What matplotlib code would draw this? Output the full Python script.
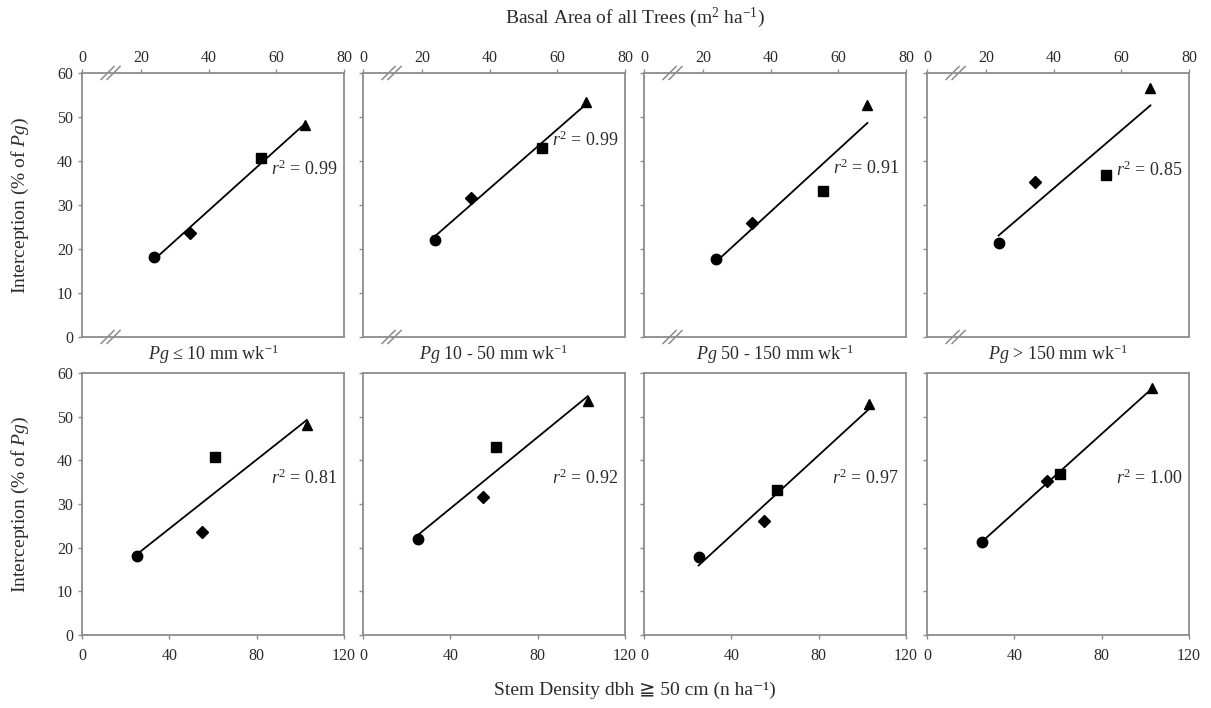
import numpy as np
import matplotlib
matplotlib.use("Agg")
import matplotlib.pyplot as plt

plt.rcParams["font.family"] = ["Liberation Serif", "DejaVu Serif", "DejaVu Sans"]
plt.rcParams["mathtext.fontset"] = "custom"
plt.rcParams["mathtext.rm"] = "Liberation Serif"
plt.rcParams["mathtext.it"] = "Liberation Serif:italic"
plt.rcParams["mathtext.fallback"] = "stix"

# Site predictors (one value per site, same order as the markers)
basal_area = [23.7, 34.6, 55.6, 68.6]        # m2 ha-1
stem_density = [25.0, 55.0, 61.0, 103.0]     # n ha-1 (dbh >= 50 cm)
site_markers = ["o", "D", "s", "^"]

# Interception (% of gross precipitation) for each weekly rainfall class
int_pg_le10 = [18.2, 23.6, 40.7, 48.1]
int_pg_10_50 = [22.0, 31.7, 43.0, 53.5]
int_pg_50_150 = [17.8, 26.0, 33.2, 52.8]
int_pg_gt150 = [21.3, 35.3, 36.9, 56.5]
interception = [int_pg_le10, int_pg_10_50, int_pg_50_150, int_pg_gt150]

class_titles = [
    r"$\mathit{Pg}$ ≤ 10 mm wk$^{-1}$",
    r"$\mathit{Pg}$ 10 - 50 mm wk$^{-1}$",
    r"$\mathit{Pg}$ 50 - 150 mm wk$^{-1}$",
    r"$\mathit{Pg}$ > 150 mm wk$^{-1}$",
]
r2_basal = ["0.99", "0.99", "0.91", "0.85"]
r2_stem = ["0.81", "0.92", "0.97", "1.00"]

y_ticks = [0, 10, 20, 30, 40, 50, 60]
ba_ticks = [20, 40, 60, 80]
sd_ticks = [0, 40, 80, 120]

SPINE = "#8c8c8c"
TXT = "#2b2b2b"

fig = plt.figure(figsize=(12.11, 7.08), dpi=100)
W, H = 1211.0, 708.0
col_left = [82, 363, 644, 927]
panel_w = 262
top_row = (73, 337)
bot_row = (373, 635)

ba_lo = 2.56  # broken axis: the left edge stands for 0


def make_ax(x0, row):
    y_top, y_bot = row
    return fig.add_axes([x0 / W, 1 - y_bot / H, panel_w / W, (y_bot - y_top) / H])


def style(ax, first_col):
    for s in ax.spines.values():
        s.set_color(SPINE)
        s.set_linewidth(1.3)
    ax.set_ylim(0, 60)
    ax.set_yticks(y_ticks)
    ax.tick_params(axis="both", colors=SPINE, labelcolor=TXT, labelsize=11.5,
                   direction="out", length=3, width=1.0)
    if not first_col:
        ax.tick_params(axis="y", labelleft=False)


def fit_line(ax, x, y):
    x = np.asarray(x)
    y = np.asarray(y)
    k, b = np.polyfit(x, y, 1)
    xs = np.array([x.min(), x.max()])
    ax.plot(xs, k * xs + b, color="black", lw=1.3, zorder=2)


def scatter(ax, x, y):
    sizes = {"o": 7.5, "D": 6.5, "s": 6.5, "^": 7.5}
    for xi, yi, m in zip(x, y, site_markers):
        ax.plot([xi], [yi], marker=m, ms=sizes[m], color="black", ls="none", zorder=3)


def break_marks(ax, xfrac):
    pw, ph = ax.get_position().width * W, ax.get_position().height * H
    dx, dy = 6.5 / pw, 6.5 / ph
    for yb in (0.0, 1.0):
        for off in (-3.0 / pw, 3.0 / pw):
            ax.plot([xfrac + off - dx, xfrac + off + dx], [yb - dy, yb + dy],
                    transform=ax.transAxes, color=SPINE, lw=1.1, clip_on=False, zorder=5)


r2_top_y = [0.636, 0.746, 0.64, 0.633]

for i in range(4):
    # Basal area panels
    ax = make_ax(col_left[i], top_row)
    style(ax, i == 0)
    ax.set_xlim(ba_lo, 80)
    ax.xaxis.tick_top()
    ax.set_xticks([ba_lo] + ba_ticks)
    ax.set_xticklabels(["0"] + [str(t) for t in ba_ticks])
    ax.tick_params(axis="x", pad=2)
    fit_line(ax, basal_area, interception[i])
    scatter(ax, basal_area, interception[i])
    ax.text(0.975, r2_top_y[i], r"$r^2$ = " + r2_basal[i], transform=ax.transAxes,
            ha="right", va="center", fontsize=13, color=TXT)
    xb = (11.0 - ba_lo) / (80 - ba_lo)
    break_marks(ax, xb)

    # Stem density panels
    ax = make_ax(col_left[i], bot_row)
    style(ax, i == 0)
    ax.set_xlim(0, 120)
    ax.set_xticks(sd_ticks)
    ax.tick_params(axis="x", pad=6)
    fit_line(ax, stem_density, interception[i])
    scatter(ax, stem_density, interception[i])
    ax.text(0.973, 0.60, r"$r^2$ = " + r2_stem[i], transform=ax.transAxes,
            ha="right", va="center", fontsize=13, color=TXT)
    ax.text(0.5, 1.07, class_titles[i], transform=ax.transAxes,
            ha="center", va="center", fontsize=13, color=TXT)

fig.text(0.524, 1 - 18 / H, r"Basal Area of all Trees (m$^{2}$ ha$^{-1}$)",
         ha="center", va="center", fontsize=14, color=TXT)
fig.text(0.524, 1 - 690 / H, "Stem Density dbh \u2267 50 cm (n ha\u207b\u00b9)",
         ha="center", va="center", fontsize=14, color=TXT)
for yc in ((73 + 337) / 2, (373 + 635) / 2):
    fig.text(20 / W, 1 - yc / H, r"Interception (% of $\mathit{Pg}$)", rotation=90,
             ha="center", va="center", fontsize=14, color=TXT)

fig.savefig("out.png", dpi=100, facecolor="white")
